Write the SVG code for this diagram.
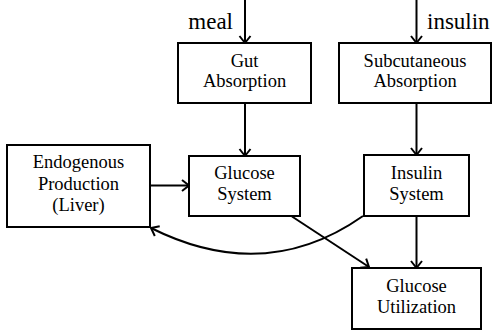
<svg xmlns="http://www.w3.org/2000/svg" width="493" height="335" viewBox="0 0 493 335">
<style>
.box{fill:#fff;stroke:#000;stroke-width:2}
.lbl{font-family:"Liberation Serif","Times New Roman",serif;font-size:18.5px;text-anchor:middle;fill:#000}
.big{font-family:"Liberation Serif","Times New Roman",serif;font-size:23px;fill:#000}
.con{fill:none;stroke:#000;stroke-width:2;marker-end:url(#ah)}
</style>
<defs>
<marker id="ah" markerUnits="userSpaceOnUse" markerWidth="14" markerHeight="14" refX="10" refY="7" orient="auto">
<path d="M3,1.5 L10,7 L3,12.5" fill="none" stroke="#000" stroke-width="2"/>
</marker>
</defs>
<g id="connectors">
<path class="con" d="M245,0 V43"/>
<path class="con" d="M416.5,0 V43"/>
<path class="con" d="M245,103 V156"/>
<path class="con" d="M416.5,103 V155"/>
<path class="con" d="M150,185.5 H189"/>
<path class="con" d="M416.5,216 V268"/>
<path class="con" d="M292,216.5 L369,267"/>
<path class="con" d="M363,216 Q265,285 151,228"/>
</g>
<g id="label-meal"><text class="big" x="233" y="29" text-anchor="end">meal</text></g>
<g id="label-insulin"><text class="big" x="427" y="29">insulin</text></g>
<g id="gut">
<rect class="box" x="178" y="43" width="133" height="60"/>
<text class="lbl" x="244.5" y="66.5">Gut</text>
<text class="lbl" x="244.5" y="87">Absorption</text>
</g>
<g id="subcutaneous">
<rect class="box" x="339" y="43" width="152" height="60"/>
<text class="lbl" x="415" y="66.5">Subcutaneous</text>
<text class="lbl" x="415" y="87">Absorption</text>
</g>
<g id="endogenous">
<rect class="box" x="7" y="145" width="143" height="82"/>
<text class="lbl" x="78.5" y="168">Endogenous</text>
<text class="lbl" x="78.5" y="189.5">Production</text>
<text class="lbl" x="78.5" y="210.5">(Liver)</text>
</g>
<g id="glucose-system">
<rect class="box" x="189" y="156" width="111" height="60"/>
<text class="lbl" x="244.5" y="179">Glucose</text>
<text class="lbl" x="244.5" y="200">System</text>
</g>
<g id="insulin-system">
<rect class="box" x="364" y="155" width="105" height="61"/>
<text class="lbl" x="416.5" y="179">Insulin</text>
<text class="lbl" x="416.5" y="200">System</text>
</g>
<g id="glucose-utilization">
<rect class="box" x="352" y="268" width="129" height="61"/>
<text class="lbl" x="416.5" y="291.5">Glucose</text>
<text class="lbl" x="416.5" y="313">Utilization</text>
</g>
</svg>
